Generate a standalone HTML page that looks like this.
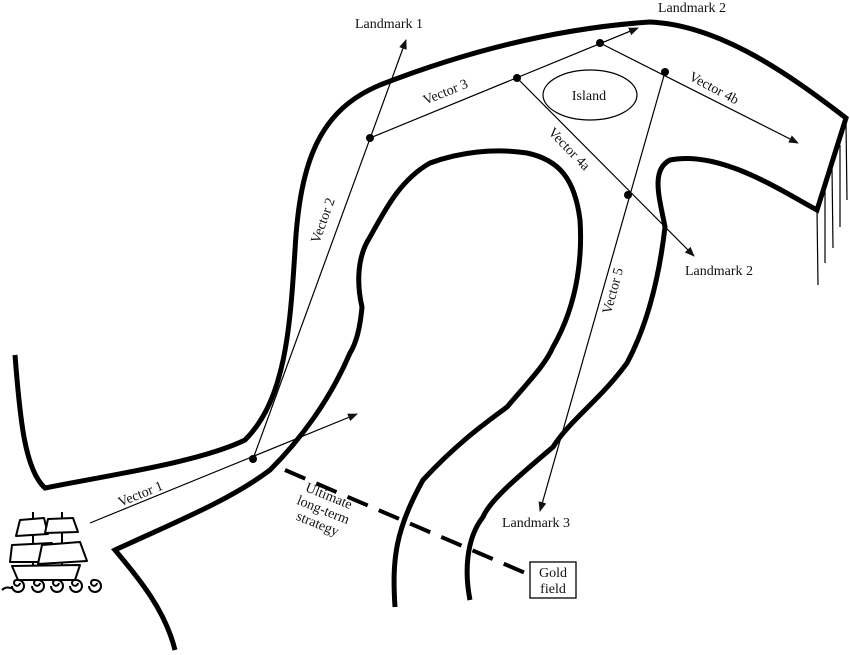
<!DOCTYPE html>
<html><head><meta charset="utf-8"><style>
html,body{margin:0;padding:0;background:#fff}
svg{display:block}
text{font-family:"Liberation Serif",serif;font-size:14px;fill:#111}
</style></head><body>
<svg width="850" height="655" viewBox="0 0 850 655" xmlns="http://www.w3.org/2000/svg">
<defs><marker id="a" markerWidth="10" markerHeight="8" refX="9" refY="4" orient="auto" markerUnits="userSpaceOnUse"><path d="M0,0 L10,4 L0,8 Z" fill="#111"/></marker></defs>
<g fill="none" stroke="#000" stroke-width="5" stroke-linejoin="miter">
<path d="M15,355 C20,420 25,470 45,488 C110,475 200,462 245,440 C285,400 290,330 295,250 C300,160 320,110 380,85 C470,50 560,28 650,22 C720,25 790,75 846,118 L817,210 C780,190 720,150 670,160 C650,170 660,200 665,227 C660,270 650,320 627,363 C600,400 570,420 553,447 C520,475 490,500 483,517 C465,540 465,575 470,600"/>
<path d="M395,607 C392,560 395,530 423,480 C460,440 490,420 507,407 C530,380 545,365 553,347 C580,300 582,250 580,220 C575,180 560,160 527,153 C495,148 460,152 430,163 C400,180 385,210 370,237 C355,260 358,290 362,307 C360,330 355,345 350,353 C330,400 300,440 270,470 C230,500 180,520 115,550 C140,580 165,610 175,650"/>
</g>
<g stroke="#000" stroke-width="1.2">
<line x1="817" y1="210" x2="818" y2="285"/><line x1="825" y1="190" x2="825" y2="263"/><line x1="832" y1="168" x2="833" y2="248"/><line x1="840" y1="145" x2="840" y2="227"/><line x1="846" y1="122" x2="847" y2="200"/>
</g>
<g stroke="#000" stroke-width="1.2" fill="none">
<line x1="90" y1="523" x2="357" y2="414" marker-end="url(#a)"/>
<line x1="253" y1="459" x2="406" y2="40" marker-end="url(#a)"/>
<line x1="370" y1="138" x2="638" y2="28" marker-end="url(#a)"/>
<line x1="517" y1="78" x2="694" y2="256" marker-end="url(#a)"/>
<line x1="600" y1="43" x2="798" y2="143" marker-end="url(#a)"/>
<line x1="665" y1="72" x2="540" y2="511" marker-end="url(#a)"/>
<ellipse cx="590" cy="95" rx="47" ry="25"/>
</g>
<g fill="#000"><circle cx="253" cy="459" r="4"/><circle cx="370" cy="138" r="4"/><circle cx="517" cy="78" r="4"/><circle cx="600" cy="43" r="4"/><circle cx="665" cy="72" r="4"/><circle cx="628" cy="195" r="4"/></g>
<line x1="285" y1="470" x2="530" y2="575" stroke="#000" stroke-width="4" stroke-dasharray="22,12"/>
<rect x="530" y="562" width="46" height="36" fill="#fff" stroke="#000" stroke-width="1.3"/>
<text x="553" y="577" text-anchor="middle">Gold</text>
<text x="553" y="593" text-anchor="middle">field</text>
<text x="355" y="28">Landmark 1</text>
<text x="658" y="12">Landmark 2</text>
<text x="685" y="275">Landmark 2</text>
<text x="502" y="527">Landmark 3</text>
<text x="589" y="100" text-anchor="middle">Island</text>
<text transform="translate(142,498) rotate(-22)" text-anchor="middle">Vector 1</text>
<text transform="translate(327,222) rotate(-70)" text-anchor="middle">Vector 2</text>
<text transform="translate(447,96) rotate(-22)" text-anchor="middle">Vector 3</text>
<text transform="translate(566,152) rotate(46)" text-anchor="middle">Vector 4a</text>
<text transform="translate(712,92) rotate(28)" text-anchor="middle">Vector 4b</text>
<text transform="translate(617,292) rotate(-75)" text-anchor="middle">Vector 5</text>
<g transform="translate(322,513) rotate(22)" text-anchor="middle">
<text x="0" y="-14">Ultimate</text><text x="0" y="1">long-term</text><text x="0" y="16">strategy</text></g>
<g stroke="#000" stroke-width="2" fill="#fff" stroke-linejoin="round">
<line x1="33" y1="512" x2="33" y2="565"/><line x1="62" y1="512" x2="62" y2="565"/>
<path d="M20,520 L44,518 L48,534 L16,536 Z"/>
<path d="M48,519 L73,518 L78,532 L45,533 Z"/>
<path d="M12,545 L52,543 L52,562 L10,562 Z"/>
<path d="M42,545 L80,542 L87,561 L38,564 Z"/>
<path d="M12,566 L80,565 L75,580 L18,580 Z"/>
<g fill="none">
<path d="M2,590 C6,586 9,588 12,588"/>
<path d="M12,586 a6,6 0 1 0 6,-6 a3,3 0 1 0 2,3"/>
<path d="M32,586 a6,6 0 1 0 6,-6 a3,3 0 1 0 2,3"/>
<path d="M51,586 a6,6 0 1 0 6,-6 a3,3 0 1 0 2,3"/>
<path d="M70,586 a6,6 0 1 0 6,-6 a3,3 0 1 0 2,3"/>
<path d="M89,586 a6,6 0 1 0 6,-6 a3,3 0 1 0 2,3"/>
</g>
</g>
</svg>
</body></html>
